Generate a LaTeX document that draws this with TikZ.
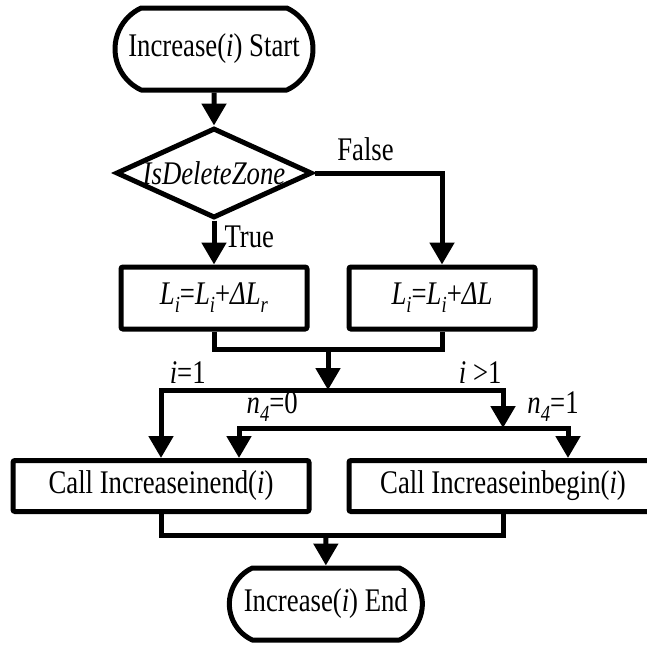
\documentclass[tikz,border=0pt]{standalone}
\usepackage{fontspec}
\setmainfont{Liberation Serif}[FakeStretch=0.81]
\usetikzlibrary{arrows.meta,positioning,shapes.geometric,shapes.misc,calc}
\newcommand{\isub}[2]{\textit{#1}\raisebox{-4pt}{\fontsize{11.5}{13}\selectfont\textit{#2}}}

\begin{document}
\begin{tikzpicture}[
  every node/.style={font=\fontsize{16.5}{19}\selectfont},
  term/.style={rounded rectangle, rounded rectangle arc length=130, draw,
               line width=2.5pt, line join=round, inner sep=0pt},
  decision/.style={diamond, draw, line width=2.5pt, inner sep=0pt,
                   minimum width=98pt, minimum height=45pt},
  proc/.style={rectangle, draw, line width=2.5pt, rounded corners=1pt, inner sep=0pt},
  wire/.style={line width=2.5pt},
  arr/.style={-{Triangle[length=11pt,width=12pt]}, line width=2.5pt},
  lbl/.style={inner sep=2pt},
]
\useasboundingbox (0,0) rectangle (323.5pt,-322.5pt);

\node[term, minimum width=99pt, minimum height=41pt] (start) at (107pt,-24.5pt)
                              {Increase(\textit{i}) Start};
\node[decision, below=16.5pt of start]
                              (zone) {\makebox[0pt]{\textit{IsDeleteZone}}};
\node[proc, minimum width=93pt, minimum height=31pt, below=22pt of zone]
                              (updr) {\isub{L}{i}=\isub{L}{i}+\isub{ΔL}{r}};
\node[proc, minimum width=93pt, minimum height=31pt, right=18.5pt of updr]
                              (upd) {\isub{L}{i}=\isub{L}{i}+\textit{ΔL}};

\coordinate[below=8.75pt of updr.south] (ml);
\coordinate[below=8.75pt of upd.south] (mr);
\coordinate (mrg) at ($(ml)!0.5!(mr)$);
\coordinate[below=20.5pt of mrg] (split);

\node[proc, minimum width=148pt, minimum height=25.5pt, below=34pt of split, xshift=-83.5pt]
                              (inend) {Call Increaseinend(\textit{i})};
\node[proc, minimum width=154pt, minimum height=25.5pt, right=17.5pt of inend]
                              (inbegin) {Call Increaseinbegin(\textit{i})};

\coordinate (n4) at ([yshift=-19pt]split -| inbegin.north);
\coordinate (in3) at ([xshift=39pt]inend.north);
\coordinate (in4) at ([xshift=32.5pt]inbegin.north);
\coordinate (mb) at ($([yshift=-10.5pt]inend.south)!0.482!([yshift=-10.5pt]inbegin.south)$);

\node[term, minimum width=96.5pt, minimum height=36pt, below=15.25pt of mb]
                              (stop) {Increase(\textit{i}) End};

\draw[arr] (start) -- (zone);
\draw[arr] (zone) -- node[lbl, right, pos=0.37, xshift=2pt] {True} (updr);
\draw[arr] (zone) -| node[lbl, above, pos=0.2, inner sep=5pt] {False} (upd);
\draw[wire] (updr) |- (mrg) -| (upd);
\draw[arr] (mrg) -- (split);
\draw[arr] (split) -| node[lbl, above, pos=0.42] {\textit{i}=1} (inend);
\draw[arr] (split) -| node[lbl, above, pos=0.435] {\textit{i} >1} (n4);
\draw[arr] (n4) -| node[lbl, above, pos=0.437] {\isub{n}{4}=0} (in3);
\draw[arr] (n4) -| node[lbl, above, pos=0.385] {\isub{n}{4}=1} (in4);
\draw[wire] (inend) |- (mb) -| (inbegin);
\draw[arr] (mb) -- (stop);
\end{tikzpicture}
\end{document}
